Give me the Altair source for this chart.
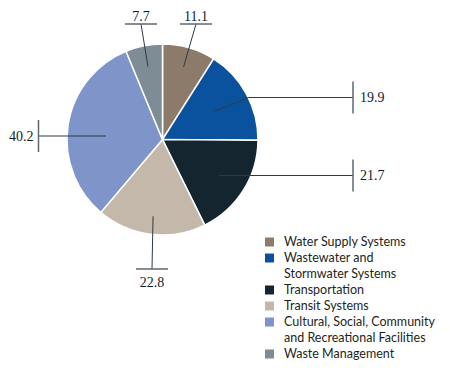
import math
import altair as alt
import pandas as pd

# ---- data ----
categories = [
    "Water Supply Systems",
    "Wastewater and Stormwater Systems",
    "Transportation",
    "Transit Systems",
    "Cultural, Social, Community and Recreational Facilities",
    "Waste Management",
]
legend_lines = [
    ["Water Supply Systems"],
    ["Wastewater and", "Stormwater Systems"],
    ["Transportation"],
    ["Transit Systems"],
    ["Cultural, Social, Community", "and Recreational Facilities"],
    ["Waste Management"],
]
values = [11.1, 19.9, 21.7, 22.8, 40.2, 7.7]
colors = ["#8c7b6b", "#0a519e", "#14252f", "#c4b8aa", "#7f94c8", "#7d8c95"]

# ---- layout (chart pixel space) ----
W, H = 434, 352
CX, CY, R = 154.5, 131.5, 95.5
TICK = 16
# per slice: leader start radius fraction, label side, tick anchor
label_layout = [
    dict(rf=0.79, side="top", tx=188, ty=16),
    dict(rf=0.62, side="right_elbow", tx=345, ty=89.5),
    dict(rf=0.70, side="right", tx=345, ty=167.5),
    dict(rf=0.81, side="bottom", tx=144, ty=261),
    dict(rf=0.60, side="left", tx=30.5, ty=128),
    dict(rf=0.78, side="top", tx=133, ty=16),
]

total = sum(values)
pie = pd.DataFrame({"cat": categories, "val": values, "order": range(len(values))})

segs, texts = [], []
cum = 0.0
for v, lay in zip(values, label_layout):
    mid = (cum + v / 2) / total * 2 * math.pi
    cum += v
    r = lay["rf"] * R
    sx, sy = CX + r * math.sin(mid), CY - r * math.cos(mid)
    tx, ty = lay["tx"], lay["ty"]
    lbl = f"{v:.1f}"
    side = lay["side"]
    if side in ("top", "bottom"):
        segs.append(dict(x=sx, y=sy, x2=tx, y2=ty, k="lead"))
        segs.append(dict(x=tx - TICK, y=ty, x2=tx + TICK, y2=ty, k="tick"))
        texts.append(dict(x=tx, y=ty - 3 if side == "top" else ty + 18, t=lbl, a="center"))
    elif side == "right_elbow":
        ex = CX + math.sqrt(R * R - (ty - CY) ** 2)
        segs.append(dict(x=sx, y=sy, x2=ex, y2=ty, k="lead"))
        segs.append(dict(x=ex, y=ty, x2=tx, y2=ty, k="lead"))
        segs.append(dict(x=tx, y=ty - TICK, x2=tx, y2=ty + TICK, k="tick"))
        texts.append(dict(x=tx + 7, y=ty + 4.5, t=lbl, a="left"))
    elif side == "right":
        segs.append(dict(x=sx, y=ty, x2=tx, y2=ty, k="lead"))
        segs.append(dict(x=tx, y=ty - TICK, x2=tx, y2=ty + TICK, k="tick"))
        texts.append(dict(x=tx + 7, y=ty + 4.5, t=lbl, a="left"))
    else:  # left
        segs.append(dict(x=sx, y=ty, x2=tx, y2=ty, k="lead"))
        segs.append(dict(x=tx, y=ty - TICK, x2=tx, y2=ty + TICK, k="tick"))
        texts.append(dict(x=tx - 5, y=ty + 4.5, t=lbl, a="right"))

segs = pd.DataFrame(segs)
texts = pd.DataFrame(texts)

# legend rows
LX, LY0, LSTEP = 261.5, 234, 16
leg_sq, leg_tx = [], []
row = 0
for cat, lines in zip(categories, legend_lines):
    leg_sq.append(dict(x=LX, y=LY0 + row * LSTEP, cat=cat))
    for ln in lines:
        leg_tx.append(dict(x=LX + 14.5, y=LY0 + row * LSTEP, t=ln))
        row += 1
leg_sq = pd.DataFrame(leg_sq)
leg_tx = pd.DataFrame(leg_tx)

xs = alt.Scale(domain=[0, W], nice=False, zero=False)
ys = alt.Scale(domain=[0, H], nice=False, zero=False, reverse=True)
cs = alt.Scale(domain=categories, range=colors)

arcs = alt.Chart(pie).mark_arc(radius=R, stroke="white", strokeWidth=1.5).encode(
    theta=alt.Theta("val:Q", stack=True),
    order=alt.Order("order:Q"),
    color=alt.Color("cat:N", scale=cs, legend=None),
    x=alt.value(CX),
    y=alt.value(CY),
)

lead = alt.Chart(segs[segs.k == "lead"]).mark_rule(color="#2f3a44", strokeWidth=1).encode(
    x=alt.X("x:Q", scale=xs, axis=None), y=alt.Y("y:Q", scale=ys, axis=None),
    x2="x2:Q", y2="y2:Q")
tick = alt.Chart(segs[segs.k == "tick"]).mark_rule(color="#5d6871", strokeWidth=1.5).encode(
    x=alt.X("x:Q", scale=xs, axis=None), y=alt.Y("y:Q", scale=ys, axis=None),
    x2="x2:Q", y2="y2:Q")

def tlayer(align):
    d = texts[texts.a == align]
    return alt.Chart(d).mark_text(align=align, baseline="alphabetic", font="Liberation Serif",
                                  fontSize=14, color="#111d2e").encode(
        x=alt.X("x:Q", scale=xs, axis=None), y=alt.Y("y:Q", scale=ys, axis=None), text="t:N")

sq = alt.Chart(leg_sq).mark_square(size=81, opacity=1).encode(
    x=alt.X("x:Q", scale=xs, axis=None), y=alt.Y("y:Q", scale=ys, axis=None),
    color=alt.Color("cat:N", scale=cs, legend=None))
ltx = alt.Chart(leg_tx).mark_text(align="left", baseline="middle", font="Lato", fontSize=12.5,
                                  color="#231f20").encode(
    x=alt.X("x:Q", scale=xs, axis=None), y=alt.Y("y:Q", scale=ys, axis=None), text="t:N")

chart = alt.layer(arcs, lead, tick, tlayer("center"), tlayer("left"), tlayer("right"), sq, ltx).properties(
    width=W, height=H, padding=0, autosize="none"
).configure_view(stroke=None)

chart.save("out.html", embed_options={"renderer": "svg", "actions": False})
